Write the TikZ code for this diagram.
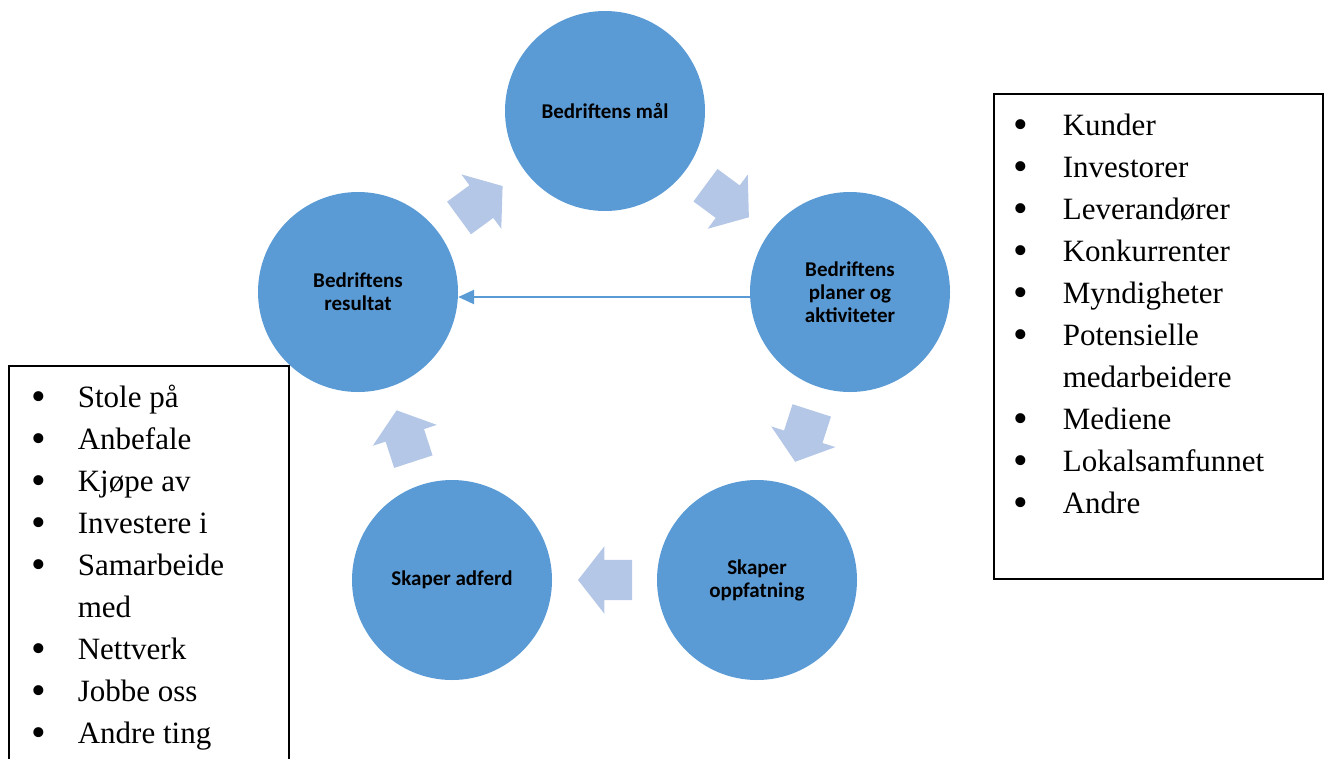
\documentclass[tikz,border=0pt]{standalone}
\usepackage{fontspec}
\setmainfont{Liberation Serif}
\setsansfont{Carlito}
\usetikzlibrary{shapes.arrows,arrows.meta}
\definecolor{sirkelblaa}{HTML}{5B9BD5}
\definecolor{lysblaa}{HTML}{B4C7E7}
\newcommand{\kule}{\raisebox{-0.08em}{\scalebox{1.35}{\textbullet}}}

\begin{document}
\begin{tikzpicture}[x=1pt,y=-1pt,
	sirkel/.style={circle,fill=sirkelblaa,minimum size=200pt,inner sep=0pt,align=center,
		font=\sffamily\bfseries\fontsize{21}{23}\selectfont},
	blokkpil/.style={single arrow,fill=lysblaa,draw=none,inner xsep=0pt,inner ysep=20pt,
		minimum height=54pt,single arrow head extend=13.5pt,
		single arrow tip angle=104,allow upside down,sloped,pos=0.235,anchor=tail},
	listeboks/.style={draw,line width=1.5pt,inner sep=0pt,anchor=north west},
	liste/.style={inner sep=0pt,anchor=north west,align=left,
		font=\fontsize{31}{42}\selectfont}]
	\useasboundingbox (0,0) rectangle (1327,758);
	\clip (0,0) rectangle (1327,758);
		\node[sirkel] (maal) at (605,111) {Bedriftens mål};
		\node[sirkel] (planer) at (850,292) {Bedriftens\\planer og\\aktiviteter};
		\node[sirkel] (oppfatning) at (757,580) {Skaper\\oppfatning};
		\node[sirkel] (adferd) at (452,580) {Skaper adferd};
		\node[sirkel] (resultat) at (358,292) {Bedriftens\\resultat};
		\path (resultat) -- node[blokkpil] {} (maal);
		\path (maal) -- node[blokkpil] {} (planer);
		\path (planer) -- node[blokkpil] {} (oppfatning);
		\path (oppfatning) -- node[blokkpil] {} (adferd);
		\path (adferd) -- node[blokkpil] {} (resultat);
		\draw[sirkelblaa,line width=2.5pt,-{Triangle[length=16pt,width=14pt]}]
			([yshift=-5pt]planer.west) -- ([yshift=-5pt]resultat.east);
		\node[listeboks,minimum width=329pt,minimum height=485pt] (interessenter) at (993,93) {};
		\node[liste] (interessentliste) at (1013,106)
			{\begin{tabular}{@{}l@{\hspace{35pt}}l@{}}
				\kule & Kunder\\
				\kule & Investorer\\
				\kule & Leverandører\\
				\kule & Konkurrenter\\
				\kule & Myndigheter\\
				\kule & Potensielle\\
				 & medarbeidere\\
				\kule & Mediene\\
				\kule & Lokalsamfunnet\\
				\kule & Andre
			\end{tabular}};
		\node[listeboks,minimum width=280pt,minimum height=430pt] (handlinger) at (8,365) {};
		\node[liste] (handlingsliste) at (31,378)
			{\begin{tabular}{@{}l@{\hspace{32pt}}l@{}}
				\kule & Stole på\\
				\kule & Anbefale\\
				\kule & Kjøpe av\\
				\kule & Investere i\\
				\kule & Samarbeide\\
				 & med\\
				\kule & Nettverk\\
				\kule & Jobbe oss\\
				\kule & Andre ting
			\end{tabular}};
\end{tikzpicture}
\end{document}
